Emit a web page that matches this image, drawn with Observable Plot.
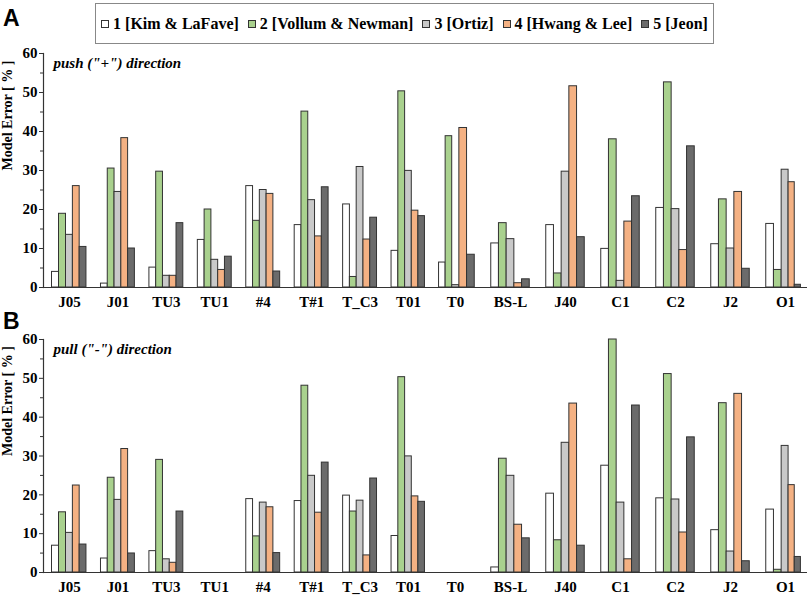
<!DOCTYPE html>
<html>
<head>
<meta charset="utf-8">
<script src="https://cdn.jsdelivr.net/npm/d3@7"></script>
<script src="https://cdn.jsdelivr.net/npm/@observablehq/plot@0.6"></script>
<style>
  body { margin: 0; background: #fff; }
  #root { position: relative; width: 809px; height: 597px; overflow: hidden; }
  .plabel { position: absolute; font-family: "Liberation Sans", Arial, sans-serif; font-weight: bold; font-size: 23px; line-height: 1; }
  #legend { position: absolute; left: 95px; top: 3px; width: 617px; height: 39px; border: 1px solid #888;
    display: flex; align-items: center; justify-content: center; gap: 9px;
    font-family: "Liberation Serif", "Times New Roman", serif; font-weight: bold; font-size: 16px; }
  .item { display: flex; align-items: center; gap: 4px; white-space: nowrap; }
  .sw { width: 8px; height: 8px; border: 1px solid #333; box-sizing: border-box; }
  .panel { position: absolute; left: 0; }
</style>
</head>
<body>
<div id="root">
  <div class="plabel" style="left:3px;top:7px">A</div>
  <div id="legend"></div>
  <div class="panel" id="pa" style="top:44px"></div>
  <div class="plabel" style="left:3px;top:310px">B</div>
  <div class="panel" id="pb" style="top:320px"></div>
</div>
<script>
const categories = ["J05","J01","TU3","TU1","#4","T#1","T_C3","T01","T0","BS-L","J40","C1","C2","J2","O1"];
const seriesNames = ["1 [Kim & LaFave]","2 [Vollum & Newman]","3 [Ortiz]","4 [Hwang & Lee]","5 [Jeon]"];
const seriesColors = ["#ffffff","#a9d18e","#c9c9c9","#f4b183","#6b6b6b"];
const yTicks = [0,10,20,30,40,50,60];
const yMinorTicks = [5,15,25,35,45,55];

// push ("+") direction
const push1 = [4.0, 1.0, 5.1, 12.2, 26.0, 16.0, 21.3, 9.4, 6.4, 11.3, 16.0, 9.9, 20.4, 11.1, 16.3];
const push2 = [18.9, 30.5, 29.7, 20.0, 17.1, 45.1, 2.7, 50.3, 38.8, 16.5, 3.6, 38.0, 52.6, 22.6, 4.5];
const push3 = [13.5, 24.5, 3.0, 7.1, 25.0, 22.4, 30.9, 29.9, 0.6, 12.4, 29.7, 1.7, 20.1, 10.0, 30.2];
const push4 = [26.0, 38.3, 3.0, 4.5, 24.0, 13.1, 12.3, 19.7, 40.9, 1.1, 51.6, 16.9, 9.6, 24.5, 27.0];
const push5 = [10.4, 10.0, 16.5, 7.9, 4.1, 25.7, 17.9, 18.3, 8.4, 2.1, 12.9, 23.4, 36.2, 4.8, 0.7];

// pull ("-") direction (TU1 and T0 have no values)
const pull1 = [6.9, 3.6, 5.5, null, 18.9, 18.4, 19.8, 9.4, null, 1.3, 20.3, 27.5, 19.1, 10.9, 16.2];
const pull2 = [15.5, 24.4, 29.0, null, 9.3, 48.1, 15.7, 50.3, null, 29.3, 8.3, 60.0, 51.1, 43.6, 0.7];
const pull3 = [10.2, 18.7, 3.4, null, 18.0, 24.9, 18.5, 29.9, null, 24.9, 33.4, 18.0, 18.8, 5.4, 32.6];
const pull4 = [22.4, 31.8, 2.5, null, 16.8, 15.4, 4.4, 19.6, null, 12.3, 43.5, 3.4, 10.3, 46.0, 22.5];
const pull5 = [7.2, 4.9, 15.7, null, 5.0, 28.3, 24.2, 18.2, null, 8.8, 6.9, 43.0, 34.8, 2.9, 4.0];

// each category occupies one unit on x; the five bars fill 70% of it
const groupWidth = 0.7;
const barWidth = groupWidth / seriesNames.length;

function tidy(arrays) {
  const rows = [];
  arrays.forEach((arr, s) => arr.forEach((v, i) => {
    if (v != null) {
      const x1 = i - groupWidth / 2 + s * barWidth;
      rows.push({cat: categories[i], series: seriesNames[s], value: v, x1, x2: x1 + barWidth});
    }
  }));
  return rows;
}

// legend
const legend = document.getElementById("legend");
seriesNames.forEach((name, i) => {
  const it = document.createElement("div"); it.className = "item";
  const sw = document.createElement("div"); sw.className = "sw"; sw.style.background = seriesColors[i];
  const tx = document.createElement("span"); tx.textContent = name;
  it.appendChild(sw); it.appendChild(tx); legend.appendChild(it);
});

const catIndex = d3.range(categories.length);
const n = categories.length;

function panel(data, note, height, marginTop, marginBottom) {
  return Plot.plot({
    width: 809, height, marginTop, marginBottom, marginLeft: 43, marginRight: 2,
    style: {fontFamily: "'Liberation Serif', 'Times New Roman', serif", fontWeight: "bold", fontSize: "15px", overflow: "visible", background: "transparent"},
    // piecewise category axis (the reference's right half is drawn slightly wider)
    x: {type: "linear", domain: [-0.5, 0, 7, 8, n - 1, n - 0.5], range: [44, 69, 408, 455, 785, 807], nice: false, axis: null},
    y: {domain: [0, 60]},
    color: {domain: seriesNames, range: seriesColors},
    marks: [
      Plot.rectY(data, {x1: "x1", x2: "x2", y: "value", fill: "series", stroke: "#333", strokeWidth: 1}),
      Plot.ruleY([0], {stroke: "#333", strokeWidth: 1.2}),
      Plot.frame({anchor: "left", stroke: "#333", strokeWidth: 1.2}),
      Plot.axisY({ticks: yTicks, tickSize: 4, tickPadding: 2, stroke: "#333", fontSize: 15, label: null}),
      Plot.axisY({ticks: yMinorTicks, tickSize: 3, text: null, label: null, stroke: "#333"}),
      Plot.text(["Model Error [ % ]"], {frameAnchor: "left", rotate: -90, dx: -36, fontSize: 14}),
      Plot.axisX({ticks: catIndex, tickFormat: i => categories[i], tickSize: 0, tickPadding: 9, label: null, fontSize: 15}),
      Plot.text([note], {frameAnchor: "top-left", dx: 10, dy: 4, fontStyle: "italic", fontSize: 15, textAnchor: "start"})
    ]
  });
}

document.getElementById("pa").appendChild(panel(tidy([push1, push2, push3, push4, push5]), 'push ("+") direction', 276, 9, 33));
document.getElementById("pb").appendChild(panel(tidy([pull1, pull2, pull3, pull4, pull5]), 'pull ("-") direction', 277, 19, 25));
</script>
</body>
</html>
